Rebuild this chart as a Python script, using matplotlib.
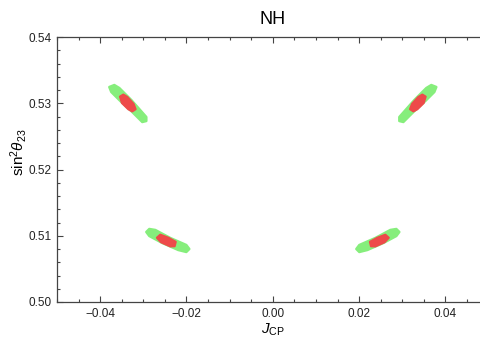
import matplotlib
matplotlib.use("Agg")
import matplotlib.pyplot as plt
from matplotlib.ticker import MultipleLocator

plt.rcParams['font.family'] = ['Liberation Sans', 'DejaVu Sans']
plt.rcParams['mathtext.fontset'] = 'custom'
plt.rcParams['mathtext.rm'] = 'Liberation Sans'
plt.rcParams['mathtext.it'] = 'Liberation Sans:italic'

title = "NH"
xlabel = r"$J_{\mathrm{CP}}$"
ylabel = r"$\mathrm{sin}^2\theta_{23}$"

# Allowed regions (boundary vertices): green = wider region, red = inner region
green_ul_x = [-0.03788, -0.03672, -0.03557, -0.03279, -0.02931, -0.02931, -0.03024, -0.03256, -0.03533, -0.03742]
green_ul_y = [0.53245, 0.53275, 0.53230, 0.53049, 0.52792, 0.52732, 0.52717, 0.52868, 0.53034, 0.53170]
red_ul_x = [-0.03540, -0.03464, -0.03371, -0.03225, -0.03180, -0.03256, -0.03348, -0.03495]
red_ul_y = [0.53100, 0.53130, 0.53094, 0.52989, 0.52910, 0.52878, 0.52910, 0.53004]

green_ll_x = [-0.02931, -0.02861, -0.02722, -0.02375, -0.02004, -0.01935, -0.02004, -0.02190, -0.02560, -0.02861]
green_ll_y = [0.51057, 0.51102, 0.51087, 0.50966, 0.50860, 0.50800, 0.50755, 0.50785, 0.50891, 0.50996]
red_ll_x = [-0.02685, -0.02607, -0.02421, -0.02250, -0.02275, -0.02375, -0.02590]
red_ll_y = [0.50970, 0.51015, 0.50970, 0.50908, 0.50842, 0.50840, 0.50903]

green_ur_x = [0.03788, 0.03672, 0.03557, 0.03279, 0.02931, 0.02931, 0.03024, 0.03256, 0.03533, 0.03742]
green_ur_y = [0.53245, 0.53275, 0.53230, 0.53049, 0.52792, 0.52732, 0.52717, 0.52868, 0.53034, 0.53170]
red_ur_x = [0.03540, 0.03464, 0.03371, 0.03225, 0.03180, 0.03256, 0.03348, 0.03495]
red_ur_y = [0.53100, 0.53130, 0.53094, 0.52989, 0.52910, 0.52878, 0.52910, 0.53004]

green_lr_x = [0.02931, 0.02861, 0.02722, 0.02375, 0.02004, 0.01935, 0.02004, 0.02190, 0.02560, 0.02861]
green_lr_y = [0.51057, 0.51102, 0.51087, 0.50966, 0.50860, 0.50800, 0.50755, 0.50785, 0.50891, 0.50996]
red_lr_x = [0.02685, 0.02607, 0.02421, 0.02250, 0.02275, 0.02375, 0.02590]
red_lr_y = [0.50970, 0.51015, 0.50970, 0.50908, 0.50842, 0.50840, 0.50903]

green_regions = [(green_ul_x, green_ul_y), (green_ll_x, green_ll_y),
                 (green_ur_x, green_ur_y), (green_lr_x, green_lr_y)]
red_regions = [(red_ul_x, red_ul_y), (red_ll_x, red_ll_y),
               (red_ur_x, red_ur_y), (red_lr_x, red_lr_y)]

GREEN = '#86ee7c'
RED = '#ee4a4a'

fig = plt.figure(figsize=(4.8, 3.4), dpi=100)
ax = fig.add_axes([57/480, 38/340, 423/480, 265/340])

for xs, ys in green_regions:
    ax.fill(xs, ys, facecolor=GREEN, edgecolor=GREEN, linewidth=1.8, joinstyle='round', zorder=2)
for xs, ys in red_regions:
    ax.fill(xs, ys, facecolor=RED, edgecolor=RED, linewidth=1.6, joinstyle='round', zorder=3)

ax.set_xlim(-0.05, 0.0480)
ax.set_ylim(0.50, 0.54)

ax.xaxis.set_major_locator(MultipleLocator(0.02))
ax.xaxis.set_minor_locator(MultipleLocator(0.005))
ax.yaxis.set_major_locator(MultipleLocator(0.01))
ax.yaxis.set_minor_locator(MultipleLocator(0.002))

def fmt(v, pos):
    s = '%.2f' % v
    if s == '-0.00':
        s = '0.00'
    if s.startswith('-'):
        s = '\u2212' + s[1:]
    return s
ax.xaxis.set_major_formatter(plt.FuncFormatter(fmt))
ax.yaxis.set_major_formatter(plt.FuncFormatter(fmt))

ax.spines['right'].set_visible(False)
for sp in ax.spines.values():
    sp.set_color('#444444')
    sp.set_linewidth(0.9)

ax.tick_params(which='both', direction='in', top=True, right=False, colors='#444444',
               labelcolor='#222222', labelsize=8.5, width=0.8)
ax.tick_params(which='major', length=4, pad=4)
ax.tick_params(which='minor', length=2)

ax.set_title(title, fontsize=13, pad=9, x=(272.5 - 57) / 423)
ax.set_xlabel(xlabel, fontsize=11)
ax.set_ylabel(ylabel, fontsize=11)
ax.xaxis.set_label_coords((272.5 - 57) / 423, -0.105)
ax.yaxis.set_label_coords(-0.09, 0.566)
ax.xaxis.label.set_va('center')
ax.yaxis.label.set_va('center')

fig.savefig('out.png', dpi=100)
